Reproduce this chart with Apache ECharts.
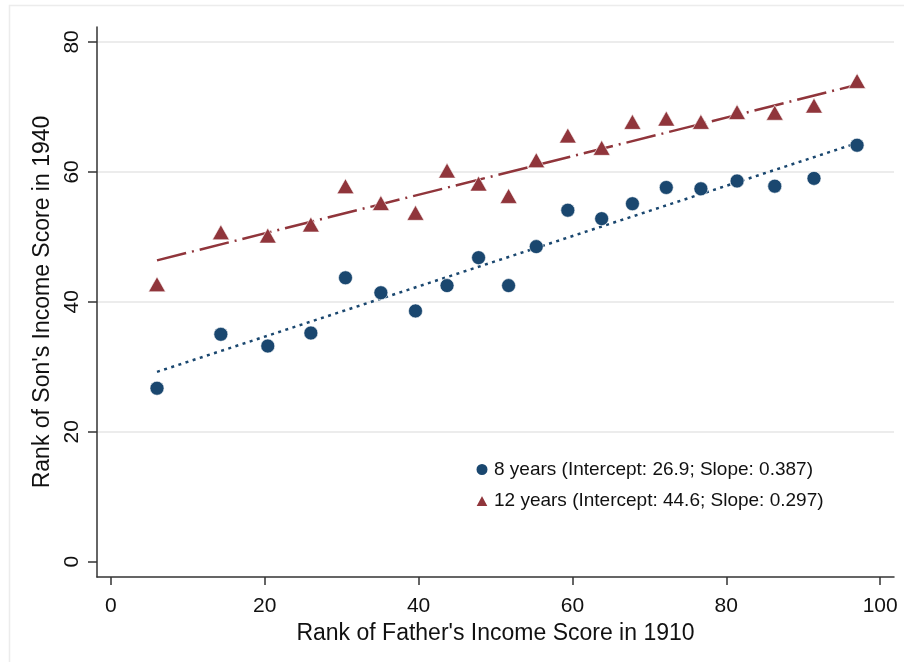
<!DOCTYPE html>
<html>
<head>
<meta charset="utf-8">
<script src="https://cdn.jsdelivr.net/npm/echarts@6/dist/echarts.min.js"></script>
<style>
  html, body { margin: 0; padding: 0; background: #ffffff; }
  #chart { width: 904px; height: 662px; }
</style>
</head>
<body>
<div id="chart"></div>
<script>
// Father's income rank (binned means) on the x axis
const fatherRank = [6.0, 14.3, 20.4, 26.0, 30.5, 35.1, 39.6, 43.7, 47.8, 51.7,
                    55.3, 59.4, 63.8, 67.8, 72.2, 76.7, 81.4, 86.3, 91.4, 97.0];
// Son's income rank in 1940, by years of schooling
const sonRank8 = [26.7, 35.0, 33.2, 35.2, 43.7, 41.4, 38.6, 42.5, 46.8, 42.5,
                  48.5, 54.1, 52.8, 55.1, 57.6, 57.4, 58.6, 57.8, 59.0, 64.1];
const sonRank12 = [42.7, 50.7, 50.2, 51.9, 57.8, 55.2, 53.7, 60.2, 58.2, 56.3,
                   61.8, 65.6, 63.7, 67.7, 68.2, 67.7, 69.2, 69.1, 70.2, 74.0];
// Linear fits
const schoolYears = [8, 12];
const fitIntercepts = [26.9, 44.6];
const fitSlopes = [0.387, 0.297];
// Axis ticks
const xTicks = [0, 20, 40, 60, 80, 100];
const yTicks = [0, 20, 40, 60, 80];
const yGridLines = [20, 40, 60, 80];

const NAVY = '#1a476f';
const MAROON = '#90353b';
const FONT = 'Arial, "Liberation Sans", sans-serif';

const names = schoolYears.map((y, i) =>
  `${y} years (Intercept: ${fitIntercepts[i]}; Slope: ${fitSlopes[i]})`);

function fitLine(i) {
  const x0 = fatherRank[0], x1 = fatherRank[fatherRank.length - 1];
  return [[x0, fitIntercepts[i] + fitSlopes[i] * x0],
          [x1, fitIntercepts[i] + fitSlopes[i] * x1]];
}

const chart = echarts.init(document.getElementById('chart'), null, { renderer: 'canvas' });

chart.setOption({
  backgroundColor: '#ffffff',
  animation: false,
  textStyle: { fontFamily: FONT },
  graphic: [{
    type: 'rect',
    left: 7, top: 3,
    shape: { width: 1000, height: 1000 },
    style: { fill: 'none', stroke: '#ececec', lineWidth: 1.5 },
    silent: true, z: -10
  }],
  grid: { left: 97, right: 10, top: 27, bottom: 85 },
  legend: {
    orient: 'vertical',
    left: 469, top: 455,
    itemWidth: 14, itemHeight: 13,
    itemGap: 12,
    data: names,
    textStyle: { fontSize: 19, color: '#111', fontFamily: FONT, padding: [0, 0, 0, 0] },
    selectedMode: false
  },
  xAxis: {
    type: 'value',
    min: -1.8, max: 101.8,
    name: "Rank of Father's Income Score in 1910",
    nameLocation: 'middle',
    nameGap: 38,
    nameTextStyle: { fontSize: 23, color: '#111', fontFamily: FONT },
    axisLine: { show: true, onZero: false, lineStyle: { color: '#333', width: 1.5 } },
    axisTick: { show: true, customValues: xTicks, length: 8, lineStyle: { color: '#333', width: 1.5 } },
    axisLabel: { customValues: xTicks, fontSize: 21, color: '#111', margin: 19, fontFamily: FONT },
    splitLine: { show: false }
  },
  yAxis: {
    type: 'value',
    min: -2.35, max: 82.3,
    name: "Rank of Son's Income Score in 1940",
    nameLocation: 'middle',
    nameGap: 36,
    nameTextStyle: { fontSize: 23, color: '#111', fontFamily: FONT },
    axisLine: { show: true, onZero: false, lineStyle: { color: '#333', width: 1.5 } },
    axisTick: { show: true, customValues: yTicks, length: 9, lineStyle: { color: '#333', width: 1.5 } },
    axisLabel: { customValues: yTicks, fontSize: 21, color: '#111', rotate: 90, margin: 14, fontFamily: FONT },
    splitLine: { show: false }
  },
  series: [
    {
      name: 'gridlines',
      type: 'line',
      data: [],
      silent: true,
      z: 0,
      markLine: {
        silent: true,
        z: 0,
        symbol: 'none',
        label: { show: false },
        lineStyle: { color: '#e6e6e6', width: 1.5, type: 'solid' },
        data: yGridLines.map(v => ({ yAxis: v }))
      }
    },
    {
      name: names[0] + ' fit',
      type: 'line',
      data: fitLine(0),
      showSymbol: false,
      silent: true,
      lineStyle: { color: NAVY, width: 2.5, type: [3, 4.5] },
      z: 2
    },
    {
      name: names[1] + ' fit',
      type: 'line',
      data: fitLine(1),
      showSymbol: false,
      silent: true,
      lineStyle: { color: MAROON, width: 2.5, type: [30, 6, 2, 6] },
      z: 2
    },
    {
      name: names[0],
      type: 'scatter',
      symbol: 'circle',
      symbolSize: 14,
      data: fatherRank.map((x, i) => [x, sonRank8[i]]),
      itemStyle: { color: NAVY, borderColor: '#ffffff', borderWidth: 0.6, opacity: 1 },
      z: 3
    },
    {
      name: names[1],
      type: 'scatter',
      symbol: 'triangle',
      symbolSize: [17, 15],
      data: fatherRank.map((x, i) => [x, sonRank12[i]]),
      itemStyle: { color: MAROON, borderColor: '#ffffff', borderWidth: 0.6, opacity: 1 },
      z: 3
    }
  ]
});
</script>
</body>
</html>
